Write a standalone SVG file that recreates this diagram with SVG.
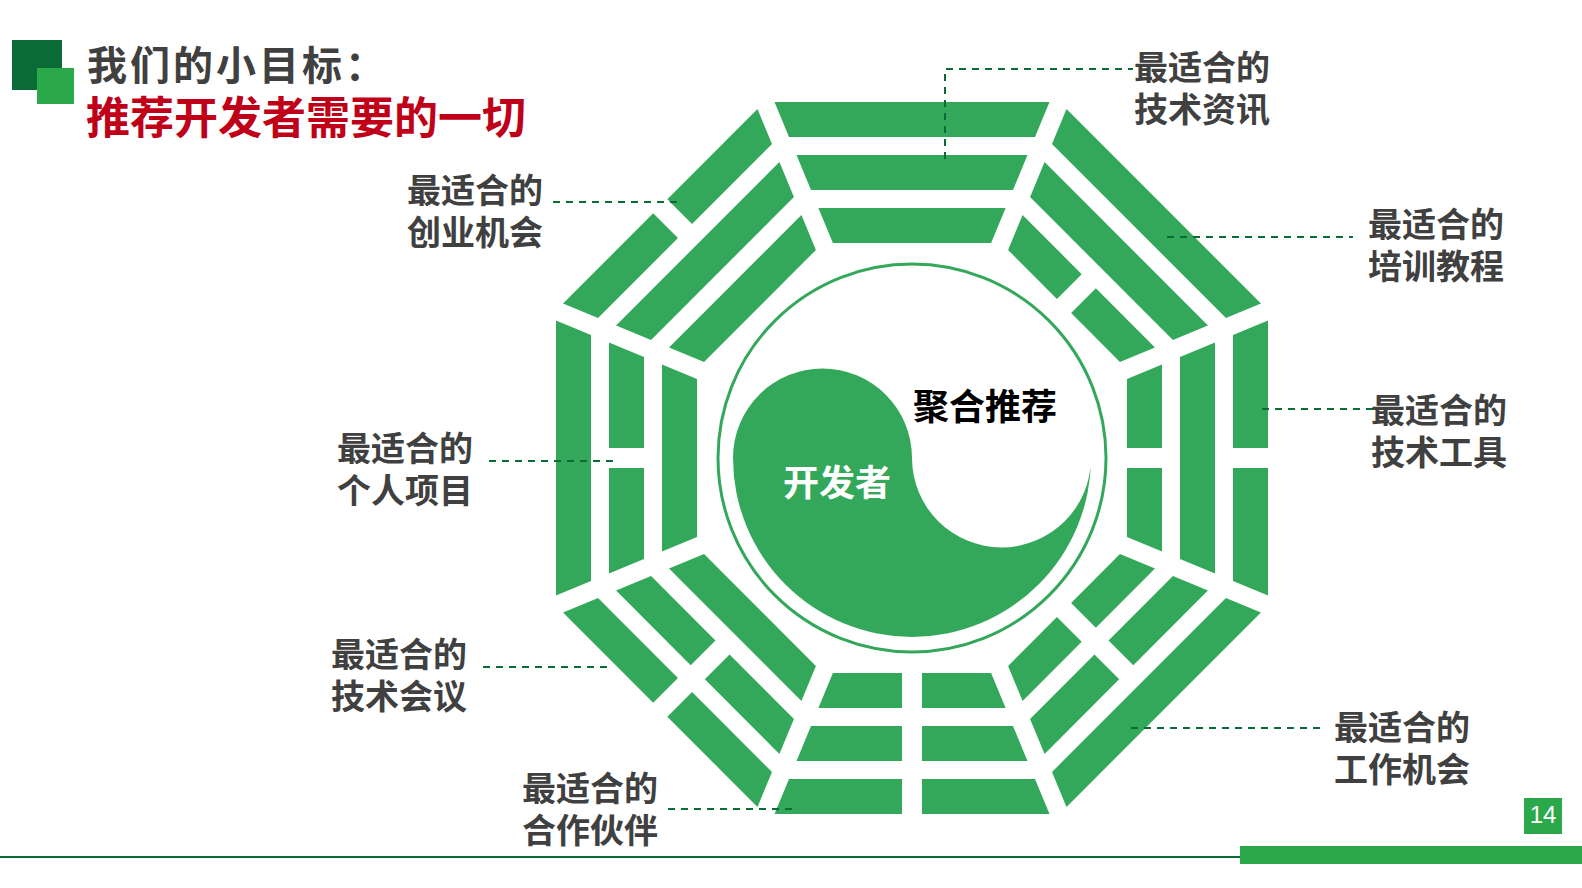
<svg xmlns="http://www.w3.org/2000/svg" width="1582" height="888" viewBox="0 0 1582 888">
<style>
.g{fill:#34a85a}
.lbl{font-family:"Noto Sans CJK SC","Noto Sans",sans-serif;font-weight:700;font-size:34px;fill:#404040}
.dash{fill:none;stroke:#0b6b37;stroke-width:2;stroke-dasharray:7 6}
</style>
<defs>
<g id="s1"><polygon class="g" points="-137.5,-356 137.5,-356 123,-321 -123,-321"/></g>
<g id="b1"><polygon class="g" points="-137.5,-356 -10,-356 -10,-321 -123,-321"/><polygon class="g" points="137.5,-356 10,-356 10,-321 123,-321"/></g>
<g id="s2"><polygon class="g" points="-115.5,-303 115.5,-303 101,-268 -101,-268"/></g>
<g id="b2"><polygon class="g" points="-115.5,-303 -10,-303 -10,-268 -101,-268"/><polygon class="g" points="115.5,-303 10,-303 10,-268 101,-268"/></g>
<g id="s3"><polygon class="g" points="-93.6,-250 93.6,-250 79.1,-215 -79.1,-215"/></g>
<g id="b3"><polygon class="g" points="-93.6,-250 -10,-250 -10,-215 -79.1,-215"/><polygon class="g" points="93.6,-250 10,-250 10,-215 79.1,-215"/></g>
</defs>
<rect width="1582" height="888" fill="#fff"/>
<g id="title">
<rect x="12" y="40" width="50" height="50" fill="#0b6b37"/>
<rect x="37" y="68" width="37" height="36" fill="#2aa84a"/>
<text x="87" y="80" font-family="Noto Sans CJK SC,sans-serif" font-weight="700" font-size="40" fill="#404040" letter-spacing="3">我们的小目标：</text>
<text x="86" y="134" font-family="Noto Sans CJK SC,sans-serif" font-weight="700" font-size="44" fill="#c00018" textLength="440" lengthAdjust="spacing">推荐开发者需要的一切</text>
</g>
<g id="bagua" transform="translate(912,458)">
<g id="tri-n"><use href="#s1"/><use href="#s2"/><use href="#s3"/></g>
<g id="tri-ne" transform="rotate(45)"><use href="#s1"/><use href="#s2"/><use href="#b3"/></g>
<g id="tri-e" transform="rotate(90)"><use href="#b1"/><use href="#s2"/><use href="#b3"/></g>
<g id="tri-se" transform="rotate(135)"><use href="#s1"/><use href="#b2"/><use href="#b3"/></g>
<g id="tri-s" transform="rotate(180)"><use href="#b1"/><use href="#b2"/><use href="#b3"/></g>
<g id="tri-sw" transform="rotate(225)"><use href="#b1"/><use href="#b2"/><use href="#s3"/></g>
<g id="tri-w" transform="rotate(270)"><use href="#s1"/><use href="#b2"/><use href="#s3"/></g>
<g id="tri-nw" transform="rotate(315)"><use href="#b1"/><use href="#s2"/><use href="#s3"/></g>
</g>
<g id="taiji">
<circle cx="912" cy="458" r="194" fill="none" stroke="#34a85a" stroke-width="3"/>
<path class="g" d="M733 458 A89.5 89.5 0 0 1 912 458 A89.5 89.5 0 0 0 1091 458 A179 179 0 0 1 733 458 Z"/>
<text x="913" y="420" font-family="Noto Sans CJK SC,sans-serif" font-weight="700" font-size="36" fill="#000">聚合推荐</text>
<text x="783" y="496" font-family="Noto Sans CJK SC,sans-serif" font-weight="700" font-size="36" fill="#fff">开发者</text>
</g>
<g id="connectors">
<polyline class="dash" points="945,159 945,69 1133,69"/>
<line class="dash" x1="553" y1="202" x2="682" y2="202"/>
<line class="dash" x1="1167" y1="237" x2="1353" y2="237"/>
<line class="dash" x1="1262" y1="409" x2="1374" y2="409"/>
<line class="dash" x1="489" y1="461" x2="618" y2="461"/>
<line class="dash" x1="483" y1="667" x2="611" y2="667"/>
<line class="dash" x1="668" y1="809" x2="797" y2="809"/>
<line class="dash" x1="1131" y1="728" x2="1321" y2="728"/>
</g>
<g id="l1"><text class="lbl" x="1134" y="80">最适合的</text><text class="lbl" x="1134" y="122">技术资讯</text></g>
<g id="l2"><text class="lbl" x="407" y="203">最适合的</text><text class="lbl" x="407" y="245">创业机会</text></g>
<g id="l3"><text class="lbl" x="1368" y="237">最适合的</text><text class="lbl" x="1368" y="279">培训教程</text></g>
<g id="l4"><text class="lbl" x="1371" y="423">最适合的</text><text class="lbl" x="1371" y="465">技术工具</text></g>
<g id="l5"><text class="lbl" x="337" y="461">最适合的</text><text class="lbl" x="337" y="503">个人项目</text></g>
<g id="l6"><text class="lbl" x="331" y="667">最适合的</text><text class="lbl" x="331" y="709">技术会议</text></g>
<g id="l7"><text class="lbl" x="522" y="801">最适合的</text><text class="lbl" x="522" y="843">合作伙伴</text></g>
<g id="l8"><text class="lbl" x="1334" y="740">最适合的</text><text class="lbl" x="1334" y="782">工作机会</text></g>
<g id="footer">
<line x1="0" y1="857" x2="1240" y2="857" stroke="#0b6b37" stroke-width="2"/>
<rect x="1240" y="846" width="342" height="18" fill="#2aa84a"/>
<rect x="1524" y="798" width="38" height="36" fill="#2aa84a"/>
<text x="1543" y="823" text-anchor="middle" font-family="Liberation Sans,sans-serif" font-size="24" fill="#fff">14</text>
</g>
</svg>
